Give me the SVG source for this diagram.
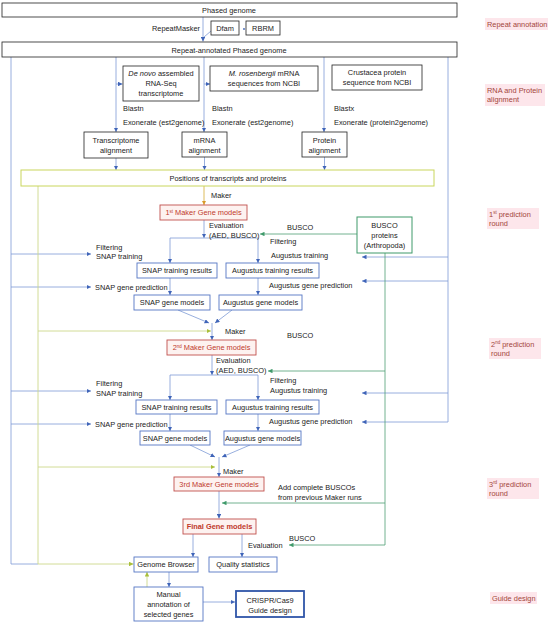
<svg xmlns="http://www.w3.org/2000/svg" width="550" height="624" viewBox="0 0 550 624">
<defs>
<style>
.t{font-family:"Liberation Sans",Arial,sans-serif;font-size:7.4px;fill:#222}
.m{text-anchor:middle}
.red{fill:#c0392b}
.lab{font-family:"Liberation Sans",Arial,sans-serif;font-size:7.4px;fill:#a3453a}
.lbg{fill:#fde6eb}
.bk{fill:#fff;stroke:#222;stroke-width:0.8}
.bl{fill:#fff;stroke:#5576c4;stroke-width:0.9}
.bl2{fill:#fff;stroke:#2f55a8;stroke-width:1.8}
.rd{fill:#fdf2f0;stroke:#c0504d;stroke-width:0.9}
.gr{fill:#fff;stroke:#3f9a6a;stroke-width:1}
.yl{fill:#fff;stroke:#c9d65c;stroke-width:1}
.c{fill:none;stroke:#7e9ad6;stroke-width:0.8}
.g{fill:none;stroke:#4fa074;stroke-width:0.8}
.y{fill:none;stroke:#cdd88a;stroke-width:0.9}
.o{fill:none;stroke:#d9b44a;stroke-width:0.9}
</style>
<marker id="ab" viewBox="0 0 6 6" refX="6" refY="3" markerWidth="4.5" markerHeight="4.5" markerUnits="userSpaceOnUse" orient="auto"><path d="M0,0L6,3L0,6z" fill="#3f64b8"/></marker>
<marker id="ag" viewBox="0 0 6 6" refX="6" refY="3" markerWidth="4.5" markerHeight="4.5" markerUnits="userSpaceOnUse" orient="auto"><path d="M0,0L6,3L0,6z" fill="#3f9a6a"/></marker>
<marker id="ay" viewBox="0 0 6 6" refX="6" refY="3" markerWidth="4.5" markerHeight="4.5" markerUnits="userSpaceOnUse" orient="auto"><path d="M0,0L6,3L0,6z" fill="#a9bf3a"/></marker>
<marker id="ao" viewBox="0 0 6 6" refX="6" refY="3" markerWidth="4.5" markerHeight="4.5" markerUnits="userSpaceOnUse" orient="auto"><path d="M0,0L6,3L0,6z" fill="#d99a2a"/></marker>
</defs>
<rect width="550" height="624" fill="#fff"/>

<g id="stage-labels">
<rect class="lbg" x="485" y="18" width="63" height="12"/>
<text class="lab" x="487" y="26.6">Repeat annotation</text>
<rect class="lbg" x="485" y="84" width="60" height="22"/>
<text class="lab" x="487" y="92.6">RNA and Protein</text>
<text class="lab" x="487" y="102.4">alignment</text>
<rect class="lbg" x="487" y="208" width="52" height="21"/>
<text class="lab" x="489" y="216.6">1<tspan font-size="4.5" dy="-2.5">st</tspan><tspan dy="2.5"> prediction</tspan></text>
<text class="lab" x="489" y="226.4">round</text>
<rect class="lbg" x="489" y="338" width="52" height="21"/>
<text class="lab" x="491" y="346.6">2<tspan font-size="4.5" dy="-2.5">nd</tspan><tspan dy="2.5"> prediction</tspan></text>
<text class="lab" x="491" y="356.4">round</text>
<rect class="lbg" x="487" y="478" width="52" height="21"/>
<text class="lab" x="489" y="486.6">3<tspan font-size="4.5" dy="-2.5">rd</tspan><tspan dy="2.5"> prediction</tspan></text>
<text class="lab" x="489" y="496.4">round</text>
<rect class="lbg" x="490" y="592" width="47" height="12"/>
<text class="lab" x="492" y="600.6">Guide design</text>
</g>

<g id="connectors">
<path class="c" d="M203,17V41.5" marker-end="url(#ab)"/>
<path class="c" d="M211,31L204,37"/>
<path class="c" d="M11,57V564H38"/>
<path class="c" d="M11,254H91" marker-end="url(#ab)"/>
<path class="c" d="M11,287H91" marker-end="url(#ab)"/>
<path class="c" d="M11,391H91" marker-end="url(#ab)"/>
<path class="c" d="M11,424H91" marker-end="url(#ab)"/>
<path class="c" d="M448,57V422H362" marker-end="url(#ab)"/>
<path class="c" d="M448,257H362" marker-end="url(#ab)"/>
<path class="c" d="M448,281H362" marker-end="url(#ab)"/>
<path class="c" d="M448,393H362" marker-end="url(#ab)"/>
<path class="c" d="M116,57V132" marker-end="url(#ab)"/>
<path class="c" d="M116,84H122.5" marker-end="url(#ab)"/>
<path class="c" d="M204,57V132" marker-end="url(#ab)"/>
<path class="c" d="M204,84H210" marker-end="url(#ab)"/>
<path class="c" d="M324,57V132" marker-end="url(#ab)"/>
<path class="c" d="M116,158V170" marker-end="url(#ab)"/>
<path class="c" d="M204.5,157V170" marker-end="url(#ab)"/>
<path class="c" d="M324.5,157V170" marker-end="url(#ab)"/>
<path class="o" d="M204,186V205" marker-end="url(#ao)"/>
<path class="c" d="M204,220V238" marker-end="url(#ab)"/>
<path class="c" d="M204,238H170V263" marker-end="url(#ab)"/>
<path class="c" d="M204,238H258V263" marker-end="url(#ab)"/>
<path class="c" d="M170,278V295" marker-end="url(#ab)"/>
<path class="c" d="M258,278V295" marker-end="url(#ab)"/>
<path class="c" d="M178,310L209,323" marker-end="url(#ab)"/>
<path class="c" d="M232,310L215,323" marker-end="url(#ab)"/>
<path class="c" d="M212,323V340" marker-end="url(#ab)"/>
<path class="c" d="M212,355V375" marker-end="url(#ab)"/>
<path class="c" d="M212,375H170V400" marker-end="url(#ab)"/>
<path class="c" d="M212,375H258V400" marker-end="url(#ab)"/>
<path class="c" d="M170,414V431" marker-end="url(#ab)"/>
<path class="c" d="M258,414V431" marker-end="url(#ab)"/>
<path class="c" d="M190,445L215,457" marker-end="url(#ab)"/>
<path class="c" d="M250,445L222,457" marker-end="url(#ab)"/>
<path class="c" d="M219,457V477" marker-end="url(#ab)"/>
<path class="c" d="M219,491V518.5" marker-end="url(#ab)"/>
<path class="c" d="M193,534V557" marker-end="url(#ab)"/>
<path class="c" d="M242,534V557" marker-end="url(#ab)"/>
<path class="c" d="M169,572V587" marker-end="url(#ab)"/>
<path class="c" d="M203,602H235" marker-end="url(#ab)"/>
<path class="g" d="M385,253V545H289" marker-end="url(#ag)"/>
<path class="g" d="M357,234H260" marker-end="url(#ag)"/>
<path class="g" d="M385,371H268" marker-end="url(#ag)"/>
<path class="g" d="M385,503H222" marker-end="url(#ag)"/>
<path class="y" d="M38,186V564H133.5" marker-end="url(#ay)"/>
<path class="y" d="M38,331H211" marker-end="url(#ay)"/>
<path class="y" d="M38,467H215" marker-end="url(#ay)"/>
<path class="y" d="M147,587V572" marker-end="url(#ay)"/>
</g>

<g id="edge-labels">
<text class="t" x="200" y="31" text-anchor="end">RepeatMasker</text>
<circle cx="244" cy="29" r="0.9" fill="#3f64b8"/>
<text class="t" x="123" y="110.6">Blastn</text>
<text class="t" x="123" y="124.6">Exonerate (est2genome)</text>
<text class="t" x="212" y="110.6">Blastn</text>
<text class="t" x="212" y="124.6">Exonerate (est2genome)</text>
<text class="t" x="334" y="110.6">Blastx</text>
<text class="t" x="334" y="124.6">Exonerate (protein2genome)</text>
<text class="t" x="211" y="198.4">Maker</text>
<text class="t" x="209" y="228.4">Evaluation</text>
<text class="t" x="209" y="238.4">(AED, BUSCO)</text>
<text class="t" x="287" y="229.6">BUSCO</text>
<text class="t" x="270" y="243.6">Filtering</text>
<text class="t" x="271" y="257.6">Augustus training</text>
<text class="t" x="269" y="287.6">Augustus gene prediction</text>
<text class="t" x="96" y="249.6">Filtering</text>
<text class="t" x="96" y="259.4">SNAP training</text>
<text class="t" x="95" y="289.6">SNAP gene prediction</text>
<text class="t" x="225" y="334">Maker</text>
<text class="t" x="287" y="337.6">BUSCO</text>
<text class="t" x="216" y="362.6">Evaluation</text>
<text class="t" x="216" y="372.6">(AED, BUSCO)</text>
<text class="t" x="270" y="383.4">Filtering</text>
<text class="t" x="270" y="393">Augustus training</text>
<text class="t" x="269" y="424.4">Augustus gene prediction</text>
<text class="t" x="96" y="386.4">Filtering</text>
<text class="t" x="96" y="395.6">SNAP training</text>
<text class="t" x="95" y="426.6">SNAP gene prediction</text>
<text class="t" x="223" y="473.6">Maker</text>
<text class="t" x="278" y="489.6">Add complete BUSCOs</text>
<text class="t" x="278" y="499.6">from previous Maker runs</text>
<text class="t" x="248" y="547.6">Evaluation</text>
<text class="t" x="289" y="540.6">BUSCO</text>
</g>

<g id="phased-genome">
<rect class="bk" x="2" y="3" width="455" height="14"/>
<text class="t m" x="229" y="13.2">Phased genome</text>
</g>
<g id="dfam">
<rect class="bk" x="211" y="21" width="28" height="14"/>
<text class="t m" x="225" y="30.8">Dfam</text>
</g>
<g id="rbrm">
<rect class="bk" x="246" y="21" width="34" height="14"/>
<text class="t m" x="263" y="30.8">RBRM</text>
</g>
<g id="repeat-annotated">
<rect class="bk" x="2" y="42" width="455" height="15"/>
<text class="t m" x="229" y="52.8">Repeat-annotated Phased genome</text>
</g>
<g id="denovo">
<rect class="bk" x="123" y="66" width="76" height="35"/>
<text class="t m" x="161" y="76.4"><tspan font-style="italic">De novo</tspan> assembled</text>
<text class="t m" x="161" y="86.4">RNA-Seq</text>
<text class="t m" x="161" y="96">transcriptome</text>
</g>
<g id="mrna-ncbi">
<rect class="bk" x="210" y="66" width="108" height="25"/>
<text class="t m" x="264" y="76.4"><tspan font-style="italic">M. rosenbergii</tspan> mRNA</text>
<text class="t m" x="264" y="85.8">sequences from NCBI</text>
</g>
<g id="protein-ncbi">
<rect class="bk" x="332" y="65" width="90" height="25"/>
<text class="t m" x="377" y="75">Crustacea protein</text>
<text class="t m" x="377" y="85">sequence from NCBI</text>
</g>
<g id="transcriptome-alignment">
<rect class="bk" x="84" y="132" width="64" height="26"/>
<text class="t m" x="116" y="142.6">Transcriptome</text>
<text class="t m" x="116" y="152.6">alignment</text>
</g>
<g id="mrna-alignment">
<rect class="bk" x="182" y="132" width="45" height="25"/>
<text class="t m" x="204.5" y="142.6">mRNA</text>
<text class="t m" x="204.5" y="152.6">alignment</text>
</g>
<g id="protein-alignment">
<rect class="bk" x="302" y="132" width="45" height="25"/>
<text class="t m" x="324.5" y="142.6">Protein</text>
<text class="t m" x="324.5" y="152.6">alignment</text>
</g>
<g id="positions">
<rect class="yl" x="21" y="170" width="413" height="16"/>
<text class="t m" x="228" y="180.8">Positions of transcripts and proteins</text>
</g>
<g id="maker1">
<rect class="rd" x="160" y="205" width="87" height="15"/>
<text class="t m red" x="203.5" y="215.2">1<tspan font-size="4.5" dy="-2.5">st</tspan><tspan dy="2.5"> Maker Gene models</tspan></text>
</g>
<g id="busco-proteins">
<rect class="gr" x="357" y="217" width="55" height="36"/>
<text class="t m" x="384.5" y="228">BUSCO</text>
<text class="t m" x="384.5" y="238">proteins</text>
<text class="t m" x="384.5" y="248">(Arthropoda)</text>
</g>
<g id="snap-train1">
<rect class="bl" x="137" y="263" width="80" height="15"/>
<text class="t m" x="177" y="273.2">SNAP training results</text>
</g>
<g id="aug-train1">
<rect class="bl" x="226" y="263" width="93" height="15"/>
<text class="t m" x="272.5" y="273.2">Augustus training results</text>
</g>
<g id="snap-gene1">
<rect class="bl" x="134" y="295" width="76" height="15"/>
<text class="t m" x="172" y="305.2">SNAP gene models</text>
</g>
<g id="aug-gene1">
<rect class="bl" x="219" y="295" width="83" height="15"/>
<text class="t m" x="260.5" y="305.2">Augustus gene models</text>
</g>
<g id="maker2">
<rect class="rd" x="167" y="340" width="89" height="15"/>
<text class="t m red" x="211.5" y="350.2">2<tspan font-size="4.5" dy="-2.5">nd</tspan><tspan dy="2.5"> Maker Gene models</tspan></text>
</g>
<g id="snap-train2">
<rect class="bl" x="136" y="400" width="81" height="14"/>
<text class="t m" x="176.5" y="409.6">SNAP training results</text>
</g>
<g id="aug-train2">
<rect class="bl" x="226" y="400" width="93" height="14"/>
<text class="t m" x="272.5" y="409.6">Augustus training results</text>
</g>
<g id="snap-gene2">
<rect class="bl" x="140" y="431" width="70" height="14"/>
<text class="t m" x="175" y="440.6">SNAP gene models</text>
</g>
<g id="aug-gene2">
<rect class="bl" x="224" y="431" width="77" height="14"/>
<text class="t m" x="262.5" y="440.6">Augustus gene models</text>
</g>
<g id="maker3">
<rect class="rd" x="174" y="477" width="90" height="14"/>
<text class="t m red" x="219" y="486.6">3rd Maker Gene models</text>
</g>
<g id="final">
<rect class="rd" x="183" y="519" width="73" height="15"/>
<text class="t m red" x="219.5" y="529.2" font-weight="bold">Final Gene models</text>
</g>
<g id="genome-browser">
<rect class="bl" x="134" y="557" width="64" height="15"/>
<text class="t m" x="166" y="567.2">Genome Browser</text>
</g>
<g id="quality">
<rect class="bl" x="209" y="557" width="68" height="15"/>
<text class="t m" x="243" y="567.2">Quality statistics</text>
</g>
<g id="manual">
<rect class="bl" x="134" y="587" width="69" height="34"/>
<text class="t m" x="168.5" y="596.6">Manual</text>
<text class="t m" x="168.5" y="606.6">annotation of</text>
<text class="t m" x="168.5" y="616.6">selected genes</text>
</g>
<g id="crispr">
<rect class="bl2" x="236" y="591" width="68" height="26"/>
<text class="t m" x="270" y="602.6">CRISPR/Cas9</text>
<text class="t m" x="270" y="612.6">Guide design</text>
</g>
</svg>
